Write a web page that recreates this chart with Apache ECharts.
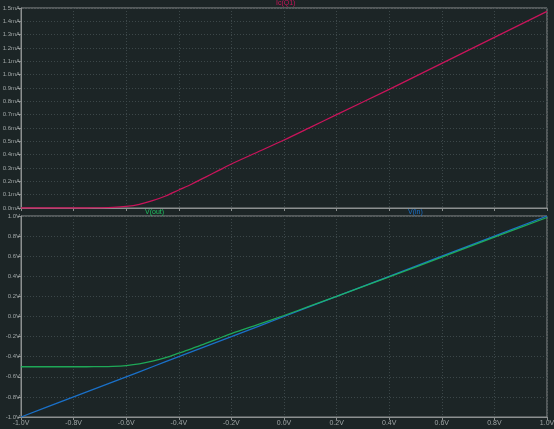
<!DOCTYPE html>
<html>
<head>
<meta charset="utf-8">
<script src="https://cdn.jsdelivr.net/npm/echarts@6/dist/echarts.min.js"></script>
<style>
  html, body { margin: 0; padding: 0; background: #1c2526; }
  #chart { width: 554px; height: 429px; }
</style>
</head>
<body>
<div id="chart"></div>
<script>
// sweep of V(in), volts
var vinSweep = [-1.0, -0.9, -0.8, -0.75, -0.7, -0.65, -0.6, -0.55, -0.5, -0.45, -0.4, -0.35,
                -0.3, -0.25, -0.2, -0.1, 0.0, 0.1, 0.2, 0.4, 0.6, 0.8, 1.0];
// Ic(Q1), mA
var icQ1 = [0, 0, 0, 0, 0.001, 0.004, 0.012, 0.028, 0.055, 0.09, 0.135, 0.18,
            0.23, 0.28, 0.33, 0.42, 0.51, 0.605, 0.70, 0.89, 1.085, 1.28, 1.475];
// V(out), volts
var vOut = [-0.5, -0.5, -0.5, -0.5, -0.499, -0.496, -0.488, -0.472, -0.445, -0.41, -0.365, -0.32,
            -0.27, -0.22, -0.17, -0.08, 0.01, 0.105, 0.2, 0.395, 0.59, 0.79, 0.985];
// V(in), volts
var vIn = [-1.0, -0.9, -0.8, -0.75, -0.7, -0.65, -0.6, -0.55, -0.5, -0.45, -0.4, -0.35,
           -0.3, -0.25, -0.2, -0.1, 0.0, 0.1, 0.2, 0.4, 0.6, 0.8, 1.0];

var textColor = '#a0a6a6';
var gridColor = '#3c4749';
var frameColor = '#8c9090';
var font = 'Liberation Sans';

var pair = function (xs, ys) {
    return xs.map(function (x, i) { return [x, ys[i]]; });
};

var xAxisBase = function (idx, showLabel) {
    return {
        type: 'value', gridIndex: idx, min: -1, max: 1, interval: 0.2,
        axisLine: { show: true, onZero: false, lineStyle: { color: frameColor } },
        axisTick: { show: true, length: 3, lineStyle: { color: frameColor } },
        axisLabel: {
            show: showLabel, color: textColor, fontSize: 7, fontFamily: font, margin: 3,
            formatter: function (v) { return v.toFixed(1) + 'V'; }
        },
        splitLine: { show: true, lineStyle: { color: gridColor, type: [1, 2] } }
    };
};

var yAxisBase = function (idx, lo, hi, step, unit) {
    return {
        type: 'value', gridIndex: idx, min: lo, max: hi, interval: step,
        axisLine: { show: true, onZero: false, lineStyle: { color: frameColor } },
        axisTick: { show: true, length: 3, lineStyle: { color: frameColor } },
        axisLabel: { color: textColor, fontSize: 6, fontFamily: font, margin: 1,
            formatter: function (v) { return v.toFixed(1) + unit; } },
        splitLine: { show: true, lineStyle: { color: gridColor, type: [1, 2] } }
    };
};

var option = {
    backgroundColor: '#1c2526',
    animation: false,
    title: [
        { text: 'Ic(Q1)', left: 276, top: 0, padding: 0,
          textStyle: { color: '#c8145a', fontSize: 7, fontWeight: 'normal', fontFamily: font } },
        { text: 'V(out)', left: 145, top: 209, padding: 0,
          textStyle: { color: '#1fc060', fontSize: 7, fontWeight: 'normal', fontFamily: font } },
        { text: 'V(in)', left: 408, top: 209, padding: 0,
          textStyle: { color: '#1a70c8', fontSize: 7, fontWeight: 'normal', fontFamily: font } }
    ],
    grid: [
        { left: 21, right: 7, top: 8, height: 200, show: true, borderColor: frameColor, borderWidth: 1,
          outerBoundsMode: 'none', containLabel: false },
        { left: 21, right: 7, top: 216, height: 201, show: true, borderColor: frameColor, borderWidth: 1,
          outerBoundsMode: 'none', containLabel: false }
    ],
    xAxis: [xAxisBase(0, false), xAxisBase(1, true)],
    yAxis: [yAxisBase(0, 0, 1.5, 0.1, 'mA'), yAxisBase(1, -1, 1, 0.2, 'V')],
    series: [
        {
            name: 'Ic(Q1)', type: 'line', xAxisIndex: 0, yAxisIndex: 0,
            data: pair(vinSweep, icQ1), smooth: 0.3, showSymbol: false,
            lineStyle: { color: '#c8145a', width: 1.3 }
        },
        {
            name: 'V(in)', type: 'line', xAxisIndex: 1, yAxisIndex: 1,
            data: pair(vinSweep, vIn), showSymbol: false,
            lineStyle: { color: '#1a70c8', width: 1.3 }
        },
        {
            name: 'V(out)', type: 'line', xAxisIndex: 1, yAxisIndex: 1,
            data: pair(vinSweep, vOut), smooth: 0.3, showSymbol: false,
            lineStyle: { color: '#1fc060', width: 1.3, opacity: 0.85 }
        }
    ]
};

var chart = echarts.init(document.getElementById('chart'));
chart.setOption(option);
</script>
</body>
</html>
